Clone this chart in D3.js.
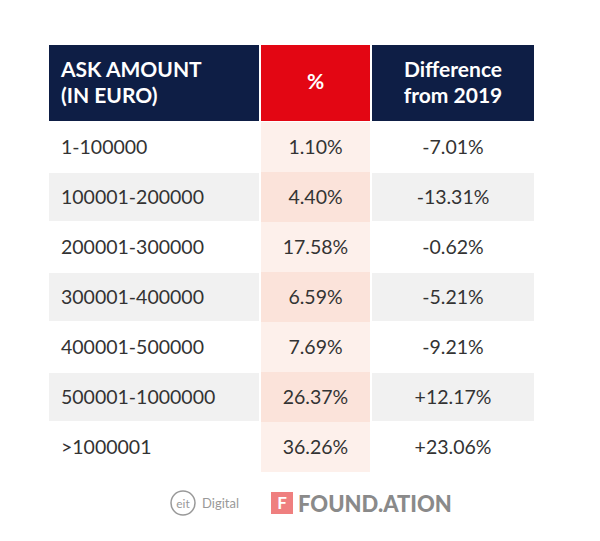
<!DOCTYPE html>
<html><head><meta charset="utf-8">
<script src="https://cdn.jsdelivr.net/npm/d3@7"></script>
<style>body{margin:0;background:#fff}</style>
</head><body><svg id="chart" width="600" height="541"></svg>
<script>
var ranges = ['1-100000','100001-200000','200001-300000','300001-400000','400001-500000','500001-1000000','>1000001'];
var shares = ['1.10%','4.40%','17.58%','6.59%','7.69%','26.37%','36.26%'];
var diffs = ['-7.01%','-13.31%','-0.62%','-5.21%','-9.21%','+12.17%','+23.06%'];
var headers = [['ASK AMOUNT','(IN EURO)'],['%'],['Difference','from 2019']];

var svg = d3.select('#chart');
var font = 'Lato, "Open Sans", sans-serif';
var cols = [{x:49,w:210,align:'start'},{x:261,w:109,align:'middle'},{x:372,w:162,align:'middle'}];
var y = d3.scaleBand().domain(d3.range(ranges.length)).range([122,472]);

// header
var headFill = ['#0e1e45','#e30613','#0e1e45'];
cols.forEach(function(c,i){
	svg.append('rect').attr('x',c.x).attr('y',45).attr('width',c.w).attr('height',76).attr('fill',headFill[i]);
	var t = svg.append('text').attr('fill','#fff').attr('font-family',font).attr('font-weight','bold')
		.attr('font-size',21).attr('text-anchor',c.align);
	var lines = headers[i];
	var y0 = 83 - (lines.length-1)*12;
	lines.forEach(function(l,k){ t.append('tspan').attr('x', c.align=='start' ? c.x+12 : c.x+c.w/2).attr('y', y0+k*26+6).text(l); });
});

// body rows
var rows = svg.selectAll('g.row').data(ranges).join('g').attr('class','row');
rows.each(function(d,i){
	var g = d3.select(this), yy = y(i), h = y.bandwidth()-2;
	var odd = i%2==1;
	g.append('rect').attr('x',49).attr('y',yy+1).attr('width',210).attr('height',h).attr('fill',odd?'#f1f1f1':'#fff');
	g.append('rect').attr('x',261).attr('y',yy).attr('width',109).attr('height',y.bandwidth()).attr('fill',odd?'#fbe3da':'#fdf0eb');
	g.append('rect').attr('x',372).attr('y',yy+1).attr('width',162).attr('height',h).attr('fill',odd?'#f1f1f1':'#fff');
	var vals = [ranges[i],shares[i],diffs[i]];
	cols.forEach(function(c,k){
		g.append('text').attr('x', c.align=='start'? c.x+12 : c.x+c.w/2).attr('y', yy+y.bandwidth()/2+7)
			.attr('text-anchor',c.align).attr('font-family',font).attr('font-size',19.5).attr('fill','#333').text(vals[k]);
	});
});

// logos
var lg = svg.append('g');
lg.append('circle').attr('cx',183).attr('cy',503).attr('r',12).attr('fill','none').attr('stroke','#999').attr('stroke-width',1.5);
lg.append('text').attr('x',183).attr('y',508).attr('text-anchor','middle').attr('font-family',font).attr('font-size',12).attr('fill','#999').text('eit');
lg.append('text').attr('x',202).attr('y',508).attr('font-family',font).attr('font-size',13).attr('fill','#999').text('Digital');
lg.append('rect').attr('x',271).attr('y',492).attr('width',22).attr('height',22).attr('fill','#ef7f7f');
lg.append('text').attr('x',282).attr('y',509).attr('text-anchor','middle').attr('font-family',font).attr('font-weight','bold').attr('font-size',17).attr('fill','#fff').text('F');
lg.append('text').attr('x',298).attr('y',512).attr('font-family',font).attr('font-weight','900').attr('font-size',22).attr('fill','#8a8a8a').text('FOUND.ATION');
</script></body></html>
